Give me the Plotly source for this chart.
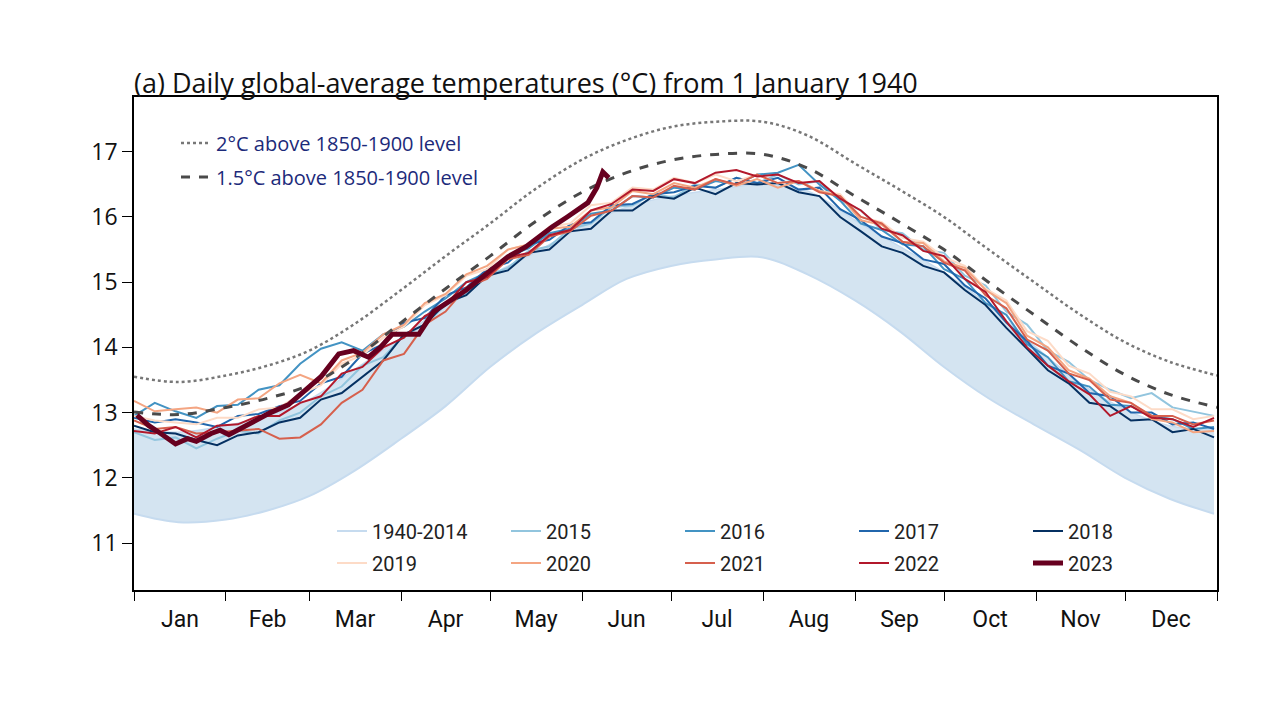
import plotly.graph_objects as go

# ---------------- data ----------------
MONTHS = ["Jan", "Feb", "Mar", "Apr", "May", "Jun", "Jul", "Aug", "Sep", "Oct", "Nov", "Dec"]
MONTH_STARTS = [0, 31, 59, 90, 120, 151, 181, 212, 243, 273, 304, 334, 365]
Y_TICKS = [11, 12, 13, 14, 15, 16, 17]

# reference curves (semi-monthly readings)
REF_DAYS = [0, 15, 31, 45, 59, 74, 90, 105, 120, 135, 151, 166, 181, 196, 212, 227, 243, 258, 273, 288, 304, 319, 334, 349, 365]
LEVEL_15 = [13.01, 12.97, 13.08, 13.22, 13.42, 13.82, 14.38, 14.90, 15.40, 15.92, 16.38, 16.68, 16.87, 16.96, 16.96, 16.75, 16.32, 15.92, 15.50, 15.00, 14.48, 14.00, 13.58, 13.28, 13.08]
LEVEL_20 = [13.55, 13.47, 13.57, 13.72, 13.95, 14.35, 14.88, 15.40, 15.90, 16.42, 16.88, 17.18, 17.38, 17.46, 17.46, 17.25, 16.82, 16.42, 16.00, 15.50, 14.98, 14.50, 14.08, 13.78, 13.57]

# 1940-2014 envelope (semi-monthly readings)
ENV_DAYS = [0, 15, 31, 45, 59, 74, 90, 105, 120, 135, 151, 166, 181, 196, 212, 227, 243, 258, 273, 288, 304, 319, 334, 349, 364]
ENV_LOW = [11.45, 11.32, 11.36, 11.50, 11.72, 12.10, 12.60, 13.10, 13.70, 14.20, 14.65, 15.05, 15.25, 15.35, 15.38, 15.12, 14.72, 14.25, 13.70, 13.22, 12.80, 12.42, 12.00, 11.68, 11.45]
ENV_HIGH = [12.75, 12.70, 12.80, 12.95, 13.20, 13.65, 14.15, 14.65, 15.10, 15.45, 15.85, 16.15, 16.32, 16.42, 16.50, 16.40, 15.95, 15.55, 15.15, 14.65, 14.00, 13.45, 13.05, 12.80, 12.75]

# recent years, weekly readings (day 0, 7, 14, ... 364)
WEEK_DAYS = list(range(0, 365, 7))
T2015 = [12.70, 12.58, 12.62, 12.45, 12.60, 12.72, 12.68, 12.88, 13.00, 13.25,
         13.40, 13.72, 13.85, 14.18, 14.35, 14.65, 14.82, 15.10, 15.22, 15.48,
         15.55, 15.82, 15.90, 16.15, 16.18, 16.35, 16.30, 16.50, 16.45, 16.60,
         16.52, 16.65, 16.50, 16.55, 16.25, 16.10, 15.80, 15.75, 15.50, 15.45,
         15.10, 14.95, 14.55, 14.35, 13.95, 13.78, 13.50, 13.35, 13.22, 13.30,
         13.08, 13.02, 12.95]
T2016 = [12.95, 13.15, 13.02, 12.92, 13.10, 13.12, 13.35, 13.42, 13.75, 13.98,
         14.08, 13.95, 14.20, 14.32, 14.55, 14.75, 15.00, 15.15, 15.40, 15.52,
         15.75, 15.82, 16.05, 16.10, 16.32, 16.30, 16.45, 16.42, 16.55, 16.50,
         16.65, 16.68, 16.80, 16.50, 16.25, 15.90, 15.80, 15.58, 15.55, 15.20,
         15.05, 14.68, 14.50, 14.05, 13.85, 13.48, 13.40, 13.12, 13.10, 12.95,
         12.90, 12.75, 12.78]
T2017 = [12.92, 12.85, 12.90, 12.85, 12.78, 12.95, 12.98, 13.10, 13.18, 13.45,
         13.55, 13.90, 14.05, 14.38, 14.45, 14.80, 14.92, 15.20, 15.30, 15.58,
         15.65, 15.88, 15.92, 16.18, 16.20, 16.35, 16.38, 16.48, 16.45, 16.60,
         16.52, 16.60, 16.42, 16.45, 16.12, 15.95, 15.70, 15.60, 15.35, 15.28,
         14.95, 14.75, 14.38, 14.10, 13.72, 13.60, 13.30, 13.25, 13.00, 13.00,
         12.82, 12.85, 12.75]
T2018 = [12.80, 12.70, 12.68, 12.58, 12.50, 12.65, 12.70, 12.85, 12.92, 13.20,
         13.30, 13.55, 13.80, 14.20, 14.35, 14.68, 14.80, 15.10, 15.18, 15.45,
         15.50, 15.78, 15.82, 16.10, 16.10, 16.32, 16.28, 16.45, 16.35, 16.52,
         16.50, 16.52, 16.38, 16.32, 16.00, 15.78, 15.55, 15.45, 15.25, 15.15,
         14.88, 14.65, 14.30, 13.98, 13.65, 13.45, 13.15, 13.10, 12.88, 12.90,
         12.70, 12.75, 12.62]
T2019 = [12.95, 12.88, 12.85, 12.82, 12.92, 12.92, 13.05, 13.08, 13.28, 13.42,
         13.75, 13.88, 14.15, 14.32, 14.65, 14.80, 15.10, 15.20, 15.50, 15.58,
         15.85, 15.90, 16.18, 16.22, 16.45, 16.42, 16.60, 16.52, 16.65, 16.55,
         16.65, 16.52, 16.55, 16.40, 16.35, 16.00, 15.92, 15.68, 15.62, 15.38,
         15.25, 14.90, 14.72, 14.25, 14.10, 13.72, 13.60, 13.32, 13.25, 13.05,
         13.05, 12.90, 12.95]
T2020 = [13.18, 13.02, 13.05, 13.08, 13.00, 13.20, 13.22, 13.45, 13.58, 13.45,
         13.80, 13.92, 14.20, 14.35, 14.68, 14.82, 15.12, 15.25, 15.50, 15.58,
         15.82, 15.85, 16.10, 16.15, 16.40, 16.35, 16.52, 16.45, 16.58, 16.48,
         16.58, 16.45, 16.55, 16.40, 16.32, 15.95, 15.88, 15.62, 15.60, 15.32,
         15.22, 14.88, 14.68, 14.18, 14.00, 13.65, 13.52, 13.25, 13.15, 12.90,
         12.85, 12.70, 12.72]
T2021 = [12.88, 12.75, 12.78, 12.68, 12.70, 12.72, 12.75, 12.60, 12.62, 12.82,
         13.15, 13.35, 13.80, 13.90, 14.35, 14.55, 14.92, 15.05, 15.35, 15.42,
         15.70, 15.78, 16.02, 16.10, 16.32, 16.30, 16.48, 16.42, 16.58, 16.50,
         16.65, 16.52, 16.55, 16.38, 16.32, 16.00, 15.90, 15.62, 15.55, 15.30,
         15.18, 14.80, 14.60, 14.12, 13.95, 13.60, 13.50, 13.20, 13.15, 12.95,
         12.95, 12.82, 12.88]
T2022 = [12.72, 12.68, 12.78, 12.62, 12.80, 12.82, 12.95, 12.95, 13.15, 13.25,
         13.60, 13.70, 14.00, 14.15, 14.48, 14.65, 15.00, 15.08, 15.38, 15.45,
         15.72, 15.80, 16.10, 16.20, 16.42, 16.40, 16.58, 16.52, 16.68, 16.72,
         16.62, 16.65, 16.52, 16.55, 16.28, 16.10, 15.82, 15.72, 15.48, 15.40,
         15.05, 14.85, 14.40, 14.00, 13.72, 13.48, 13.28, 12.95, 13.10, 12.92,
         12.90, 12.78, 12.92]

# 2023 (to early June)
DAYS_2023 = [1, 5, 9, 14, 18, 21, 26, 29, 32, 40, 46, 52, 57, 63, 69, 74, 79, 83, 87, 96, 101, 106, 112, 119, 126, 132, 137, 141, 146, 153, 156, 158, 160]
T2023 = [12.96, 12.80, 12.68, 12.52, 12.60, 12.56, 12.68, 12.73, 12.66, 12.85, 13.00, 13.12, 13.32, 13.55, 13.90, 13.95, 13.85, 14.00, 14.20, 14.20, 14.55, 14.70, 14.88, 15.14, 15.39, 15.54, 15.72, 15.85, 16.00, 16.22, 16.45, 16.69, 16.60]

YEARS = ["2015", "2016", "2017", "2018", "2019", "2020", "2021", "2022"]
YEAR_VALUES = [T2015, T2016, T2017, T2018, T2019, T2020, T2021, T2022]
YEAR_COLORS = ["#92c5de", "#4393c3", "#2166ac", "#053061", "#fddbc7", "#f4a582", "#d6604d", "#b2182b"]
COLOR_2023 = "#67001f"

TITLE = "(a) Daily global-average temperatures (°C) from 1 January 1940"
LABEL_20 = "2°C above 1850-1900 level"
LABEL_15 = "1.5°C above 1850-1900 level"

# ---------------- figure ----------------
NARROW = "Roboto, sans-serif"
MYRIAD = "Open Sans, Noto Sans, sans-serif"

# the page body adds an 8px margin; the figure is sized so that it still ends at 1280x716
OFF = 8
W, H = 1280 - OFF, 716 - OFF
PL, PR, PT, PB = 134, 1217, 97, 590      # plot area edges in window pixels

fig = go.Figure()

# 1940-2014 bundle
fig.add_trace(go.Scatter(x=ENV_DAYS, y=ENV_LOW, mode="lines", name="1940-2014",
                         line=dict(color="#c6dbef", width=2, shape="spline"),
                         legend="legend", hoverinfo="skip"))
fig.add_trace(go.Scatter(x=ENV_DAYS, y=ENV_HIGH, mode="lines", fill="tonexty",
                         fillcolor="#d4e4f1", line=dict(color="#c6dbef", width=1.5, shape="spline"),
                         showlegend=False, hoverinfo="skip"))

# recent years
for name, vals, col in zip(YEARS, YEAR_VALUES, YEAR_COLORS):
    fig.add_trace(go.Scatter(x=WEEK_DAYS, y=vals, mode="lines", name=name,
                             line=dict(color=col, width=2),
                             legend="legend" if int(name) <= 2018 else "legend3"))

# reference levels
fig.add_trace(go.Scatter(x=REF_DAYS, y=LEVEL_20, mode="lines", name=LABEL_20,
                         line=dict(color="#777777", width=2.5, dash="dot", shape="spline"),
                         legend="legend2"))
fig.add_trace(go.Scatter(x=REF_DAYS, y=LEVEL_15, mode="lines", name=LABEL_15,
                         line=dict(color="#4a4a4a", width=3, dash="dash", shape="spline"),
                         legend="legend4"))

# 2023
fig.add_trace(go.Scatter(x=DAYS_2023, y=T2023, mode="lines", name="2023",
                         line=dict(color=COLOR_2023, width=5), legend="legend3"))

mid_months = [(MONTH_STARTS[i] + MONTH_STARTS[i + 1]) / 2 for i in range(12)]

pw, ph = PR - PL, PB - PT
bottom_legend = dict(orientation="h", xanchor="left", yanchor="middle",
                     entrywidth=129, entrywidthmode="pixels",
                     font=dict(size=20, family=NARROW, color="#222222"),
                     bgcolor="rgba(0,0,0,0)", traceorder="normal")
top_legend = dict(orientation="v", xanchor="left", yanchor="middle",
                  font=dict(size=20, family=MYRIAD, color="#1c2a7a"),
                  bgcolor="rgba(0,0,0,0)")

fig.update_layout(
    width=W, height=H,
    margin=dict(l=PL - OFF, r=W - (PR - OFF), t=PT - OFF, b=H - (PB - OFF)),
    paper_bgcolor="white", plot_bgcolor="white",
    title=dict(text=TITLE, x=(PL - OFF) / W, xanchor="left", xref="container",
               y=1 - (84 - OFF) / H, yanchor="middle", yref="container",
               font=dict(size=27, family=MYRIAD, color="#111111")),
    xaxis=dict(range=[0, 365], tickmode="array", tickvals=mid_months, ticktext=MONTHS,
               ticks="outside", ticklen=8, tickcolor="rgba(0,0,0,0)",
               tickfont=dict(size=23, family=NARROW, color="#111111"),
               showgrid=False, zeroline=False, showline=True, linecolor="black",
               linewidth=1.5, mirror=True,
               minor=dict(tickmode="array", tickvals=MONTH_STARTS, ticks="outside",
                          ticklen=9, tickcolor="black", tickwidth=1, showgrid=False)),
    yaxis=dict(range=[10.28, 17.84], tickmode="array", tickvals=Y_TICKS,
               ticks="outside", ticklen=10, tickcolor="black", tickwidth=1,
               tickfont=dict(size=23, family=MYRIAD, color="#111111"),
               showgrid=False, zeroline=False, showline=True, linecolor="black",
               linewidth=1.5, mirror=True),
    legend=dict(bottom_legend, x=(332 - PL) / pw, y=(PB - 531) / ph),
    legend3=dict(bottom_legend, x=(332 - PL) / pw, y=(PB - 563) / ph),
    legend2=dict(top_legend, x=(176 - PL) / pw, y=(PB - 143) / ph),
    legend4=dict(top_legend, x=(176 - PL) / pw, y=(PB - 177) / ph),
    showlegend=True,
)

fig.write_html("out.html")
